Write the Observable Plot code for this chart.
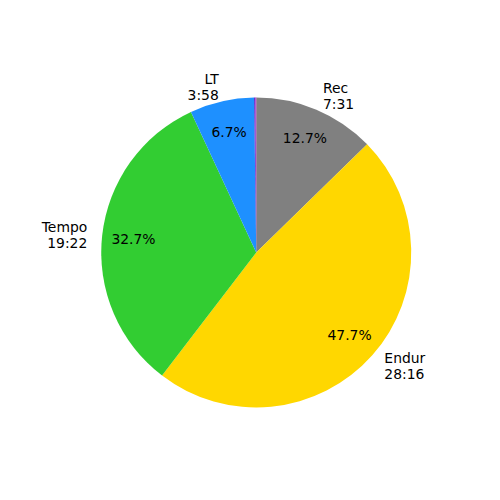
<!DOCTYPE html>
<html>
<head>
<meta charset="utf-8">
<script src="https://cdn.jsdelivr.net/npm/d3@7"></script>
<script src="https://cdn.jsdelivr.net/npm/@observablehq/plot@0.6"></script>
<style>
  html, body { margin: 0; padding: 0; background: #fff; }
</style>
</head>
<body>
<div id="chart"></div>
<script>
// Zone names, durations (seconds), display labels and colours
const zones = ["Rec", "Endur", "Tempo", "LT", "VO2", "AC"];
const seconds = [451, 1696, 1162, 238, 5, 3];
const timeLabels = ["7:31", "28:16", "19:22", "3:58", "", ""];
const colors = ["#808080", "#FFD700", "#32CD32", "#1E90FF", "#5a28c8", "#b422c8"];

const total = d3.sum(seconds);
const data = zones.map((z, i) => ({
  zone: z, value: seconds[i], time: timeLabels[i], color: colors[i]
}));
const arcs = d3.pie().sort(null).value(d => d.value)(data);
arcs.forEach(a => {
  a.mid = (a.startAngle + a.endAngle) / 2;
  a.pct = a.data.value / total;
});

const labelDist = 1.1, pctDist = 0.8;
const labels = arcs.filter(a => a.data.time !== "").map(a => ({
  x: labelDist * Math.sin(a.mid),
  y: labelDist * Math.cos(a.mid),
  text: a.data.zone + "\n" + a.data.time
}));
const pcts = arcs.filter(a => a.pct >= 0.01).map(a => ({
  x: pctDist * Math.sin(a.mid),
  y: pctDist * Math.cos(a.mid),
  text: (a.pct * 100).toFixed(1) + "%"
}));

function wedgeMark(index, scales) {
  const sx = scales.x, sy = scales.y;
  const cx = sx(0), cy = sy(0), r = sx(1) - sx(0);
  const arcGen = d3.arc().innerRadius(0).outerRadius(r);
  const g = d3.create("svg:g").attr("transform", `translate(${cx},${cy})`);
  g.selectAll("path").data(arcs).join("path")
    .attr("d", arcGen)
    .attr("fill", d => d.data.color);
  return g.node();
}

const font = "DejaVu Sans, sans-serif";
const labelOpts = {x: "x", y: "y", text: "text", lineHeight: 1.15,
  fontSize: 13.9, fill: "black", fontFamily: font};
const chart = Plot.plot({
  width: 500,
  height: 500,
  margin: 0,
  x: {domain: [-1, 1], range: [101.25, 411.25], axis: null},
  y: {domain: [-1, 1], range: [407.5, 97.5], axis: null},
  style: {fontFamily: font, background: "#fff"},
  marks: [
    wedgeMark,
    Plot.text(labels.filter(d => d.x > 0), {...labelOpts, textAnchor: "start"}),
    Plot.text(labels.filter(d => d.x <= 0), {...labelOpts, textAnchor: "end"}),
    Plot.text(pcts, {
      x: "x", y: "y", text: "text",
      fontSize: 13.9, fill: "black", fontFamily: font
    })
  ]
});
document.getElementById("chart").appendChild(chart);
</script>
</body>
</html>
